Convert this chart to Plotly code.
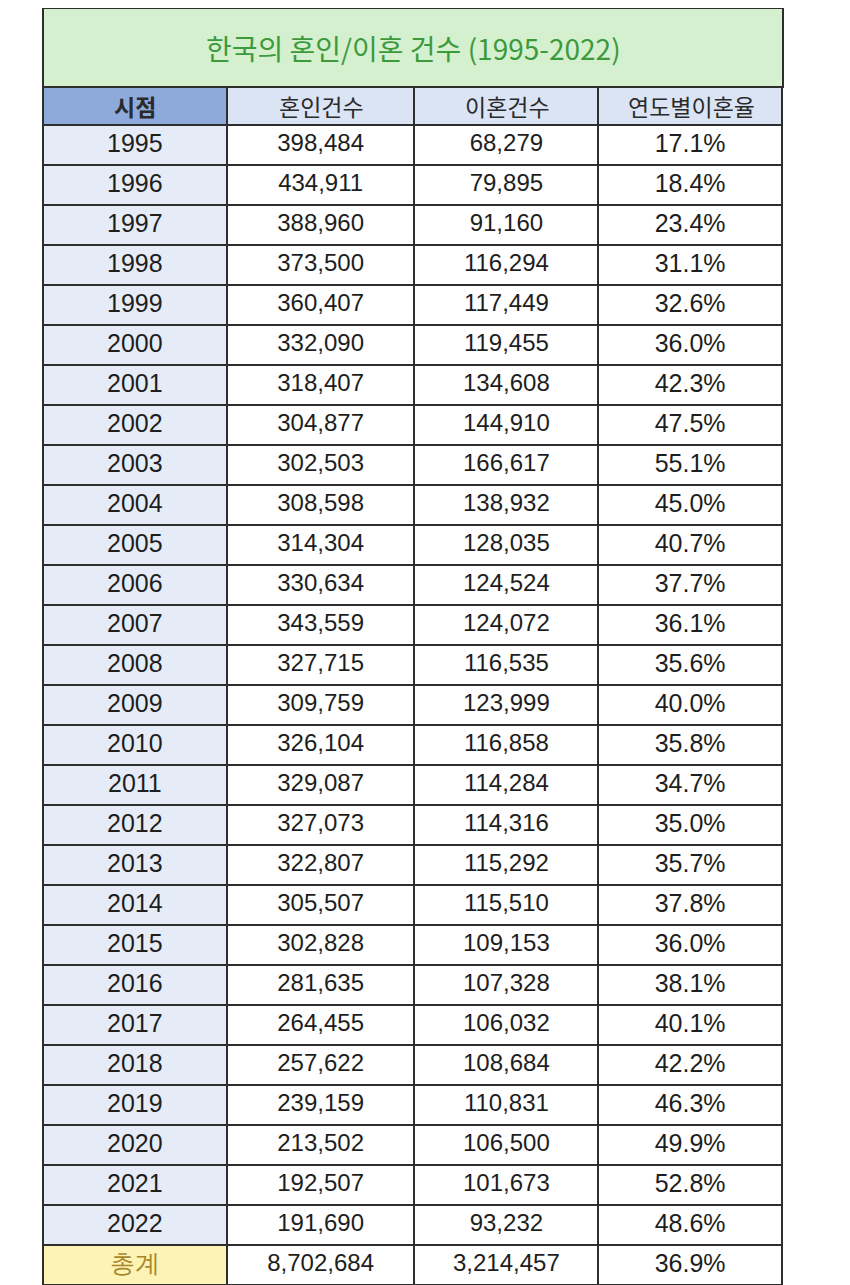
import plotly.graph_objects as go

title = "한국의 혼인/이혼 건수 (1995-2022)"
columns = ["시점", "혼인건수", "이혼건수", "연도별이혼율"]

years = list(range(1995, 2023))
marriages = [398484, 434911, 388960, 373500, 360407, 332090, 318407, 304877,
             302503, 308598, 314304, 330634, 343559, 327715, 309759, 326104,
             329087, 327073, 322807, 305507, 302828, 281635, 264455, 257622,
             239159, 213502, 192507, 191690]
divorces = [68279, 79895, 91160, 116294, 117449, 119455, 134608, 144910,
            166617, 138932, 128035, 124524, 124072, 116535, 123999, 116858,
            114284, 114316, 115292, 115510, 109153, 107328, 106032, 108684,
            110831, 106500, 101673, 93232]
rates = [17.1, 18.4, 23.4, 31.1, 32.6, 36.0, 42.3, 47.5, 55.1, 45.0, 40.7,
         37.7, 36.1, 35.6, 40.0, 35.8, 34.7, 35.0, 35.7, 37.8, 36.0, 38.1,
         40.1, 42.2, 46.3, 49.9, 52.8, 48.6]
total_label = "총계"
total_marriages = 8702684
total_divorces = 3214457
total_rate = 36.9

# page has an 8px body margin, so figure coords are page coords minus 8
OFF = 8
W, H = 850 - OFF, 1285 - OFF
left, right = 43 - OFF, 783 - OFF
title_top, title_bot = 8 - OFF, 87 - OFF
head_h = 38
col_w = [184, 188, 184, 184]
line_col = "#2e2e2e"

n = len(years)
col_year = [str(y) for y in years] + [total_label]
col_mar = [f"{v:,}" for v in marriages] + [f"{total_marriages:,}"]
col_div = [f"{v:,}" for v in divorces] + [f"{total_divorces:,}"]
col_rate = [f"{v:.1f}%" for v in rates] + [f"{total_rate:.1f}%"]

first_fill = ["#e6ecf7"] * n + ["#fcf3b4"]
white = ["#ffffff"] * (n + 1)
first_font = ["#1e1e1e"] * n + ["#a8862c"]
dark = ["#1e1e1e"] * (n + 1)

fig = go.Figure()
# header cells are left blank here; CJK line metrics would make the row too tall,
# so the header labels are placed as annotations below
fig.add_trace(go.Table(
    domain=dict(x=[left / W, right / W], y=[0, 1 - title_bot / H]),
    columnwidth=col_w,
    header=dict(
        values=["", "", "", ""],
        fill_color=["#8eaadb", "#dae4f5", "#dae4f5", "#dae4f5"],
        line=dict(color=line_col, width=2),
        height=head_h,
    ),
    cells=dict(
        values=[col_year, col_mar, col_div, col_rate],
        fill_color=[first_fill, white, white, white],
        line=dict(color=line_col, width=2),
        font=dict(family="Liberation Sans", size=[25, 24, 24, 25],
                  color=[first_font, dark, dark, dark]),
        align="center",
        height=40,
    ),
))

# header labels
x0 = left
for i, label in enumerate(columns):
    cx = x0 + col_w[i] / 2
    x0 += col_w[i]
    fig.add_annotation(text=f"<b>{label}</b>" if i == 0 else label,
                       xref="paper", yref="paper",
                       x=cx / W, y=1 - (title_bot + head_h / 2) / H,
                       showarrow=False, xanchor="center", yanchor="middle",
                       font=dict(family="Noto Sans CJK KR", size=23, color="#2a2a2a"))

# title band spanning all columns
fig.add_shape(type="rect", xref="paper", yref="paper",
              x0=left / W, x1=right / W, y0=1 - title_bot / H, y1=1 - title_top / H,
              fillcolor="#d4f0cf", line=dict(color=line_col, width=2), layer="below")
fig.add_annotation(text=title, xref="paper", yref="paper",
                   x=(left + right) / 2 / W, y=1 - (title_top + title_bot) / 2 / H,
                   showarrow=False, xanchor="center", yanchor="middle",
                   font=dict(family="Noto Sans CJK KR", size=28, color="#3c9a3c"))

fig.update_layout(width=W, height=H, margin=dict(l=0, r=0, t=0, b=0),
                  paper_bgcolor="white", showlegend=False)

fig.write_html("out.html")
